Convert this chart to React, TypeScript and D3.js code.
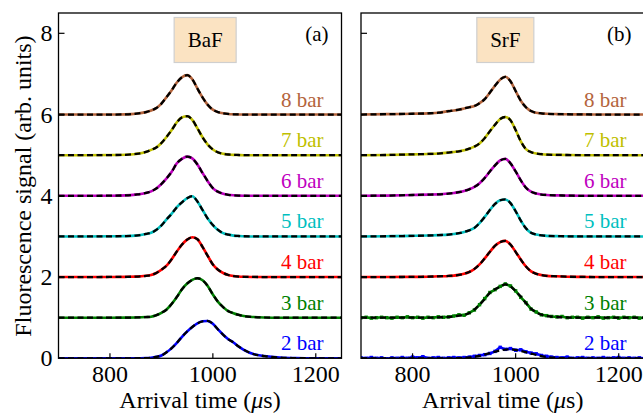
import React from 'react';
import * as d3 from 'd3';

// ---- data ----
const timeGrid = [700, 750, 800, 830, 850, 870, 880, 890, 900, 910, 920, 930, 940, 950, 960, 970, 980, 990, 1000, 1010, 1020, 1030, 1040, 1050, 1060, 1080, 1100, 1130, 1160, 1200, 1250];
const denseGrid = d3.range(700, 1251, 10);

const pressureLabels = ['2 bar', '3 bar', '4 bar', '5 bar', '6 bar', '7 bar', '8 bar'];
const offsets = [0, 1, 2, 3, 4, 5, 6];
const seriesColors = ['#0000ff', '#008000', '#ff0000', '#00bfbf', '#bf00bf', '#bfbf00', '#b4643c'];

const xTicks = [800, 1000, 1200];
const yTicks = [0, 2, 4, 6, 8];

// BaF fits (signal above each curve's baseline)
const baf2 = [0, 0, 0, 0, 0, 0.005, 0.014, 0.035, 0.07, 0.15, 0.25, 0.38, 0.53, 0.66, 0.77, 0.86, 0.91, 0.92, 0.85, 0.71, 0.58, 0.47, 0.39, 0.29, 0.21, 0.10, 0.055, 0.018, 0.005, 0, 0];
const baf3 = [0, 0, 0, 0.002, 0.005, 0.015, 0.025, 0.06, 0.12, 0.20, 0.34, 0.51, 0.70, 0.84, 0.93, 0.97, 0.92, 0.78, 0.57, 0.39, 0.26, 0.16, 0.11, 0.07, 0.04, 0.015, 0.005, 0, 0, 0, 0];
const baf4 = [0, 0, 0.002, 0.005, 0.01, 0.03, 0.05, 0.10, 0.18, 0.28, 0.44, 0.63, 0.80, 0.92, 0.98, 0.93, 0.74, 0.52, 0.31, 0.18, 0.10, 0.05, 0.025, 0.012, 0.006, 0.002, 0, 0, 0, 0, 0];
const baf5 = [0, 0, 0.003, 0.008, 0.02, 0.06, 0.09, 0.16, 0.27, 0.42, 0.56, 0.72, 0.84, 0.94, 0.99, 0.86, 0.65, 0.44, 0.28, 0.16, 0.08, 0.045, 0.02, 0.01, 0.005, 0, 0, 0, 0, 0, 0];
const baf6 = [0, 0, 0.003, 0.01, 0.03, 0.07, 0.11, 0.18, 0.29, 0.43, 0.59, 0.80, 0.91, 0.965, 0.92, 0.77, 0.56, 0.36, 0.19, 0.10, 0.05, 0.025, 0.012, 0.005, 0.002, 0, 0, 0, 0, 0, 0];
const baf7 = [0, 0, 0.003, 0.01, 0.03, 0.08, 0.13, 0.19, 0.30, 0.45, 0.62, 0.81, 0.93, 0.96, 0.87, 0.66, 0.44, 0.26, 0.14, 0.07, 0.035, 0.017, 0.008, 0.004, 0, 0, 0, 0, 0, 0, 0];
const baf8 = [0, 0, 0, 0.005, 0.02, 0.06, 0.10, 0.16, 0.27, 0.43, 0.60, 0.79, 0.92, 0.97, 0.87, 0.64, 0.42, 0.24, 0.12, 0.06, 0.03, 0.015, 0.007, 0.003, 0, 0, 0, 0, 0, 0, 0];

// SrF fits
const srf2 = [0, 0, 0, 0, 0, 0, 0, 0.004, 0.011, 0.022, 0.04, 0.062, 0.092, 0.128, 0.163, 0.194, 0.216, 0.22, 0.205, 0.18, 0.15, 0.117, 0.084, 0.055, 0.033, 0.011, 0.002, 0, 0, 0, 0];
const srf3 = [0, 0, 0, 0, 0.008, 0.017, 0.03, 0.05, 0.066, 0.116, 0.20, 0.32, 0.46, 0.61, 0.70, 0.76, 0.82, 0.77, 0.65, 0.52, 0.36, 0.22, 0.13, 0.075, 0.04, 0.017, 0.004, 0, 0, 0, 0];
const srf4 = [0, 0, 0.004, 0.009, 0.018, 0.027, 0.036, 0.053, 0.08, 0.125, 0.20, 0.31, 0.46, 0.62, 0.77, 0.86, 0.89, 0.80, 0.62, 0.43, 0.26, 0.14, 0.08, 0.05, 0.03, 0.018, 0.009, 0.004, 0, 0, 0];
const srf5 = [0, 0.005, 0.014, 0.023, 0.032, 0.045, 0.06, 0.08, 0.11, 0.15, 0.21, 0.33, 0.48, 0.65, 0.80, 0.89, 0.91, 0.82, 0.62, 0.39, 0.20, 0.09, 0.045, 0.027, 0.014, 0.007, 0.003, 0, 0, 0, 0];
const srf6 = [0, 0.005, 0.02, 0.03, 0.035, 0.055, 0.07, 0.09, 0.12, 0.16, 0.22, 0.31, 0.44, 0.60, 0.75, 0.87, 0.91, 0.80, 0.60, 0.38, 0.20, 0.10, 0.055, 0.03, 0.02, 0.01, 0.005, 0, 0, 0, 0];
const srf7 = [0, 0.005, 0.02, 0.03, 0.04, 0.065, 0.08, 0.095, 0.12, 0.16, 0.21, 0.29, 0.42, 0.59, 0.75, 0.89, 0.94, 0.86, 0.62, 0.34, 0.15, 0.075, 0.04, 0.025, 0.014, 0.008, 0.004, 0, 0, 0, 0];
const srf8 = [0, 0.01, 0.02, 0.03, 0.045, 0.085, 0.10, 0.12, 0.15, 0.18, 0.21, 0.28, 0.38, 0.54, 0.71, 0.86, 0.93, 0.82, 0.58, 0.34, 0.18, 0.085, 0.045, 0.03, 0.02, 0.011, 0.007, 0.004, 0, 0, 0];

// noisy SrF measurements (dense grid)
const srf2Data = [0.01, 0.00, 0.02, 0.00, 0.01, -0.01, 0.01, 0.00, 0.02, 0.00, 0.03, 0.01, 0.04, 0.00, 0.01, 0.02, 0.00, 0.01, 0.02, 0.01, 0.02, 0.03, 0.05, 0.07, 0.09, 0.12, 0.17, 0.27, 0.22, 0.24, 0.20, 0.21, 0.16, 0.13, 0.11, 0.07, 0.05, 0.03, 0.02, 0.01, 0.03, 0.00, 0.01, 0.02, 0.00, 0.01, 0.00, 0.02, 0.00, 0.01, 0.02, 0.00, 0.01, 0.00, 0.01, 0.00];
const srf3Data = [0.00, 0.01, -0.01, 0.00, 0.01, 0.00, -0.01, 0.01, 0.00, 0.02, 0.00, 0.01, -0.01, 0.01, 0.00, 0.02, 0.01, 0.02, 0.04, 0.07, 0.06, 0.12, 0.19, 0.32, 0.47, 0.62, 0.69, 0.77, 0.83, 0.78, 0.66, 0.50, 0.37, 0.21, 0.14, 0.07, 0.05, 0.03, 0.02, 0.03, 0.00, 0.01, 0.01, -0.01, 0.01, 0.00, 0.02, -0.01, 0.00, 0.01, -0.01, 0.01, 0.00, 0.01, -0.01, 0.00];

// ---- layout ----
const W = 643;
const H = 415;
const TOP = 13;
const BOTTOM = 358.3;
const FONT = "'Liberation Serif', 'Times New Roman', serif";

const yScale = d3.scaleLinear().domain([0, 8.5]).range([BOTTOM, TOP]);

type Series = { t: number[]; v: number[]; markers: boolean };

const panels = [
  {
    id: 'a', name: 'BaF', left: 58.5, right: 341.5, yLabels: true, boxT: 985, boxW: 62,
    fits: [baf2, baf3, baf4, baf5, baf6, baf7, baf8],
    data: [baf2, baf3, baf4, baf5, baf6, baf7, baf8].map((v) => ({ t: timeGrid, v, markers: false } as Series)),
  },
  {
    id: 'b', name: 'SrF', left: 361, right: 644.5, yLabels: false, boxT: 980, boxW: 57,
    fits: [srf2, srf3, srf4, srf5, srf6, srf7, srf8],
    data: [
      { t: denseGrid, v: srf2Data, markers: true },
      { t: denseGrid, v: srf3Data, markers: true },
      ...[srf4, srf5, srf6, srf7, srf8].map((v) => ({ t: timeGrid, v, markers: false } as Series)),
    ],
  },
];

function Panel({ p }: { p: (typeof panels)[number] }) {
  const x = d3.scaleLinear().domain([700, 1250]).range([p.left, p.right]);
  const clipId = `clip-${p.id}`;
  const mk = (t: number[], v: number[], off: number, smooth: boolean) =>
    d3
      .line<number>()
      .x((_, i) => x(t[i]))
      .y((d) => yScale(d + off))
      .curve(smooth ? d3.curveMonotoneX : d3.curveLinear)(v) || '';
  const boxX = x(p.boxT);
  return (
    <g>
      <defs>
        <clipPath id={clipId}>
          <rect x={p.left} y={TOP} width={p.right - p.left} height={BOTTOM - TOP} />
        </clipPath>
      </defs>
      <g clipPath={`url(#${clipId})`}>
        {p.fits.map((fit, i) => {
          const d = p.data[i];
          return (
            <g key={i}>
              <path d={mk(d.t, d.v, offsets[i], !d.markers)} fill="none" stroke={seriesColors[i]} strokeWidth={2.6} />
              {d.markers &&
                d.v.map((val, j) => (
                  <rect key={j} x={x(d.t[j]) - 1.7} y={yScale(val + offsets[i]) - 1.7} width={3.4} height={3.4} fill={seriesColors[i]} />
                ))}
              <path d={mk(timeGrid, fit, offsets[i], true)} fill="none" stroke="#000" strokeWidth={2.3} strokeDasharray="6,3.5" />
            </g>
          );
        })}
      </g>
      {/* labels of pressures */}
      {pressureLabels.map((lab, i) => (
        <text key={lab} x={x(1215)} y={yScale(offsets[i]) - 8} textAnchor="end" fontFamily={FONT} fontSize={21} fill={seriesColors[i]}>
          {lab}
        </text>
      ))}
      {/* ticks */}
      {yTicks.map((v) => (
        <line key={'yt' + v} x1={p.left} x2={p.left + 6} y1={yScale(v)} y2={yScale(v)} stroke="#000" strokeWidth={1.2} />
      ))}
      {xTicks.map((v) => (
        <line key={'xt' + v} x1={x(v)} x2={x(v)} y1={BOTTOM} y2={BOTTOM - 5} stroke="#000" strokeWidth={1.2} />
      ))}
      {p.yLabels &&
        yTicks.map((v) => (
          <text key={'yl' + v} x={p.left - 6} y={yScale(v) + 8} textAnchor="end" fontFamily={FONT} fontSize={24} fill="#000">
            {v}
          </text>
        ))}
      {xTicks.map((v) => (
        <text key={'xl' + v} x={x(v)} y={382} textAnchor="middle" fontFamily={FONT} fontSize={24} fill="#000">
          {v}
        </text>
      ))}
      <text x={(p.left + p.right) / 2} y={408} textAnchor="middle" fontFamily={FONT} fontSize={24} fill="#000">
        Arrival time (<tspan fontStyle="italic">μ</tspan>s)
      </text>
      {/* frame */}
      <rect x={p.left} y={TOP} width={p.right - p.left} height={BOTTOM - TOP} fill="none" stroke="#000" strokeWidth={1.3} />
      {/* molecule box */}
      <rect x={boxX - p.boxW / 2} y={17.5} width={p.boxW} height={45} fill="#fbe3c2" stroke="#cfcfcf" strokeWidth={1.2} />
      <text x={boxX} y={46.5} textAnchor="middle" fontFamily={FONT} fontSize={21} fill="#000">
        {p.name}
      </text>
      <text x={p.right - 13} y={41} textAnchor="end" fontFamily={FONT} fontSize={21} fill="#000">
        ({p.id})
      </text>
    </g>
  );
}

export default function App() {
  return (
    <svg width={W} height={H} viewBox={`0 0 ${W} ${H}`} style={{ position: 'absolute', left: 0, top: 0, background: '#fff' }}>
      <rect x={0} y={0} width={W} height={H} fill="#fff" />
      {panels.map((p) => (
        <Panel key={p.id} p={p} />
      ))}
      <text transform="translate(31,186) rotate(-90)" textAnchor="middle" fontFamily={FONT} fontSize={24} fill="#000">
        Fluorescence signal (arb. units)
      </text>
    </svg>
  );
}
